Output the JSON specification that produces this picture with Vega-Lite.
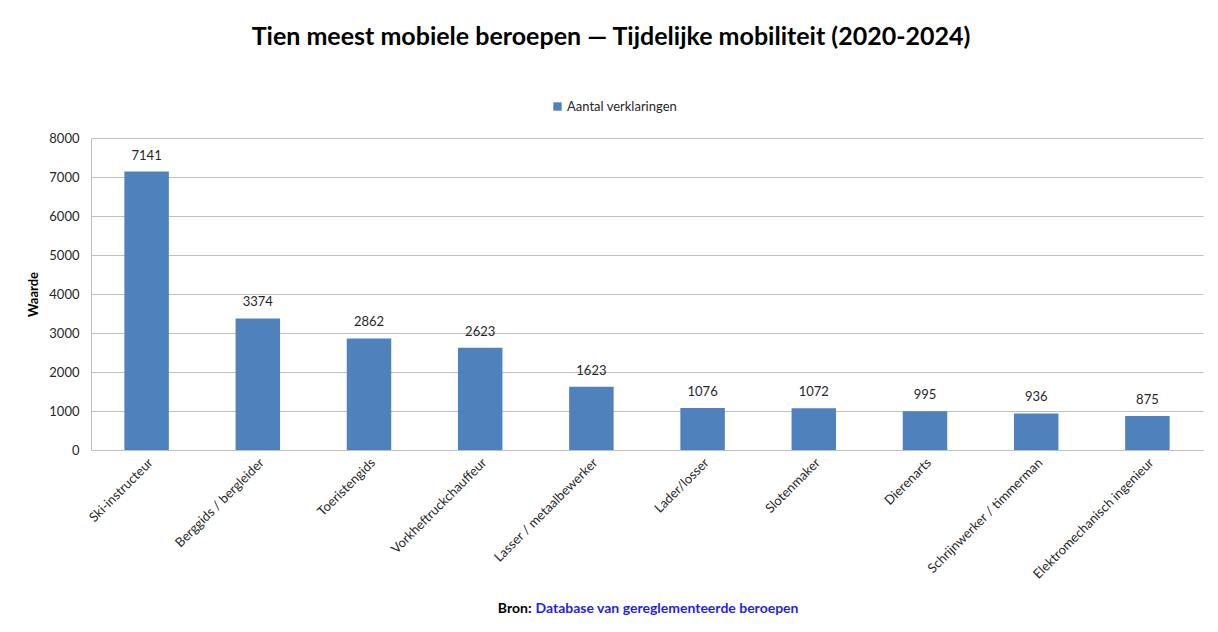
{
  "$schema": "https://vega.github.io/schema/vega-lite/v6.json",
  "width": 1112,
  "height": 312,
  "autosize": {"type": "none"},
  "padding": {"left": 91, "top": 138, "right": 15, "bottom": 182},
  "background": "white",
  "config": {
    "view": {"stroke": null},
    "axisY": {
      "labelFont": "Lato",
      "labelFontSize": 13,
      "labelColor": "#262626",
      "labelPadding": 12,
      "ticks": false,
      "gridColor": "#bfbfbf",
      "domainColor": "#bfbfbf",
      "labelOverlap": false
    }
  },
  "title": {
    "text": "Tien meest mobiele beroepen — Tijdelijke mobiliteit (2020-2024)",
    "font": "Lato",
    "fontSize": 25,
    "fontWeight": "bold",
    "color": "#000000",
    "anchor": "middle",
    "dx": -36,
    "offset": 50
  },
  "data": {
    "values": [
      {"beroep": "Ski-instructeur", "aantal": 7141},
      {"beroep": "Berggids / bergleider", "aantal": 3374},
      {"beroep": "Toeristengids", "aantal": 2862},
      {"beroep": "Vorkheftruckchauffeur", "aantal": 2623},
      {"beroep": "Lasser / metaalbewerker", "aantal": 1623},
      {"beroep": "Lader/losser", "aantal": 1076},
      {"beroep": "Slotenmaker", "aantal": 1072},
      {"beroep": "Dierenarts", "aantal": 995},
      {"beroep": "Schrijnwerker / timmerman", "aantal": 936},
      {"beroep": "Elektromechanisch ingenieur", "aantal": 875}
    ]
  },
  "layer": [
    {
      "mark": {"type": "bar", "color": "#4F81BD"},
      "encoding": {
        "x": {
          "field": "beroep",
          "type": "nominal",
          "sort": null,
          "scale": {"paddingInner": 0.6, "paddingOuter": 0.3},
          "axis": {
            "orient": "bottom",
            "title": "Bron:",
            "titleFont": "Lato",
            "titleFontSize": 14,
            "titleFontWeight": "bold",
            "titleColor": "#000000",
            "titleX": 440,
            "titleY": 158,
            "titleAlign": "right",
            "titleBaseline": "middle",
            "labelAngle": -45,
            "labelFont": "Lato",
            "labelFontSize": 13,
            "labelColor": "#262626",
            "labelPadding": 6,
            "ticks": false,
            "domainColor": "#bfbfbf",
            "grid": false
          }
        },
        "y": {
          "field": "aantal",
          "type": "quantitative",
          "scale": {"domain": [0, 8000]},
          "axis": {
            "title": "Waarde",
            "titleFont": "Lato",
            "titleFontSize": 13,
            "titleFontWeight": "bold",
            "titleColor": "#000000",
            "titlePadding": 8,
            "format": "d",
            "values": [0, 1000, 2000, 3000, 4000, 5000, 6000, 7000, 8000],
            "grid": true
          }
        },
        "color": {
          "datum": "Aantal verklaringen",
          "scale": {"range": ["#4F81BD"]},
          "legend": {
            "title": null,
            "orient": "none",
            "direction": "horizontal",
            "legendX": 460,
            "legendY": -38,
            "symbolType": "square",
            "symbolSize": 70,
            "symbolStrokeWidth": 0,
            "labelFont": "Lato",
            "labelFontSize": 13,
            "labelColor": "#262626",
            "labelOffset": 3
          }
        }
      }
    },
    {
      "mark": {"type": "text", "baseline": "bottom", "dy": -9, "font": "Lato", "fontSize": 13, "color": "#262626"},
      "encoding": {
        "x": {
          "field": "beroep",
          "type": "nominal",
          "sort": null,
          "axis": {
            "orient": "bottom",
            "title": "Database van gereglementeerde beroepen",
            "titleFont": "Lato",
            "titleFontSize": 14,
            "titleFontWeight": "bold",
            "titleColor": "#1f1fe8",
            "titleX": 444,
            "titleY": 158,
            "titleAlign": "left",
            "titleBaseline": "middle",
            "labels": false,
            "ticks": false,
            "domain": false,
            "grid": false
          }
        },
        "y": {
          "field": "aantal",
          "type": "quantitative",
          "axis": {
            "title": "Waarde",
            "titleFont": "Lato",
            "titleFontSize": 13,
            "titleFontWeight": "bold",
            "titleColor": "#000000",
            "titlePadding": 8,
            "format": "d",
            "values": [0, 1000, 2000, 3000, 4000, 5000, 6000, 7000, 8000],
            "grid": true
          }
        },
        "text": {"field": "aantal", "type": "quantitative", "format": "d"}
      }
    }
  ],
  "resolve": {"axis": {"x": "independent"}}
}
